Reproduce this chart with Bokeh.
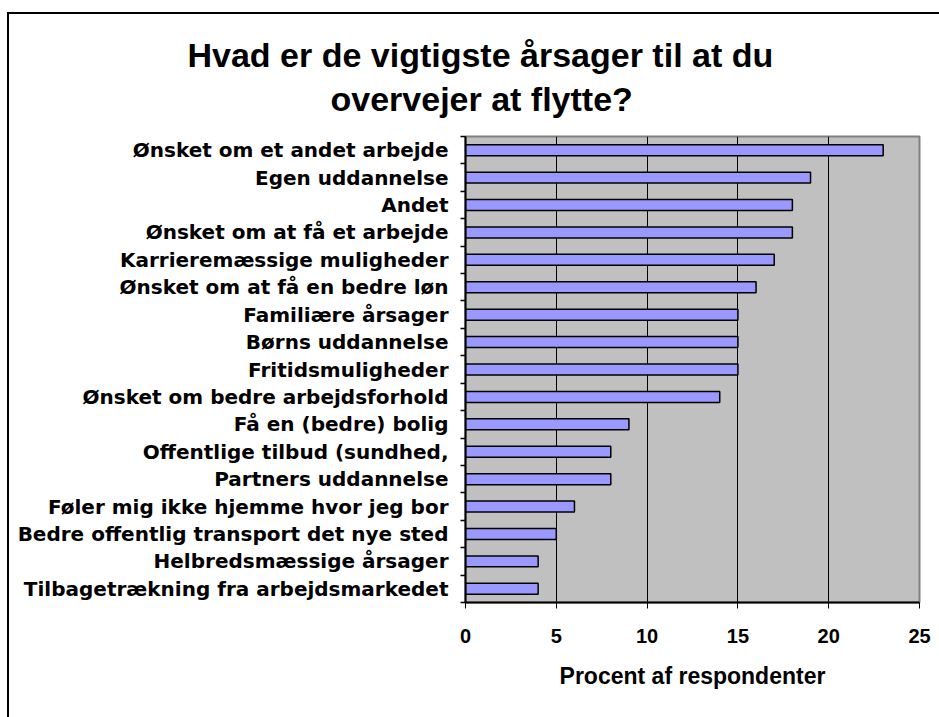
from bokeh.plotting import figure
from bokeh.models import FixedTicker, Range1d, InlineStyleSheet, Title
from bokeh.embed import file_html
from bokeh.resources import INLINE

categories = [
    "Ønsket om et andet arbejde",
    "Egen uddannelse",
    "Andet",
    "Ønsket om at få et arbejde",
    "Karrieremæssige muligheder",
    "Ønsket om at få en bedre løn",
    "Familiære årsager",
    "Børns uddannelse",
    "Fritidsmuligheder",
    "Ønsket om bedre arbejdsforhold",
    "Få en (bedre) bolig",
    "Offentlige tilbud (sundhed,",
    "Partners uddannelse",
    "Føler mig ikke hjemme hvor jeg bor",
    "Bedre offentlig transport det nye sted",
    "Helbredsmæssige årsager",
    "Tilbagetrækning fra arbejdsmarkedet",
]
values = [23, 19, 18, 18, 17, 16, 15, 15, 15, 14, 9, 8, 8, 6, 5, 4, 4]
x_ticks = [0, 5, 10, 15, 20, 25]
title_lines = ["Hvad er de vigtigste årsager til at du", "overvejer at flytte?"]
x_label = "Procent af respondenter"

n = len(categories)
pos = [n - i for i in range(n)]  # first category on top
bounds = [k + 0.5 for k in range(n + 1)]

frame_css = InlineStyleSheet(css="""
:host { position: relative; }
:host::after {
  content: ""; position: absolute; left: 7px; top: 12px; right: 0; bottom: 0;
  border-left: 2px solid black; border-top: 2px solid black;
  pointer-events: none; z-index: 10;
}
""")

p = figure(
    width=939, height=717,
    x_range=Range1d(0, 25), y_range=Range1d(0.5, n + 0.5),
    output_backend="svg", toolbar_location=None,
    min_border_left=465, min_border_right=20,
    min_border_top=136, min_border_bottom=115,
    stylesheets=[frame_css],
)
p.background_fill_color = "#c0c0c0"
p.border_fill_color = "white"
p.outline_line_color = "#808080"
p.outline_line_width = 2

# title: two lines, each centred over the chart (left offsets relative to plot frame)
for txt, off, so in [(title_lines[1], -135, 38), (title_lines[0], -278, -30)]:
    p.add_layout(Title(text=txt, align="left", offset=off,
                       text_font="Liberation Sans", text_font_style="bold",
                       text_font_size="34px", text_color="black",
                       standoff=so), "above")

p.hbar(y=pos, right=values, left=0, height=0.4,
       fill_color="#9999ff", line_color="black", line_width=1.5)

xa = p.xaxis[0]
xa.ticker = FixedTicker(ticks=x_ticks)
xa.axis_line_color = "black"
xa.axis_line_width = 2
xa.major_tick_out = 6
xa.major_tick_in = 0
xa.major_tick_line_color = "black"
xa.minor_tick_line_color = None
xa.major_label_text_font = "Liberation Sans"
xa.major_label_text_font_style = "bold"
xa.major_label_text_font_size = "20px"
xa.major_label_text_color = "black"
xa.major_label_standoff = 20
xa.axis_label = x_label
xa.axis_label_text_font = "Liberation Sans"
xa.axis_label_text_font_style = "bold"
xa.axis_label_text_font_size = "23px"
xa.axis_label_text_color = "black"
xa.axis_label_standoff = 17

ya = p.yaxis[0]
ya.ticker = FixedTicker(ticks=pos, minor_ticks=bounds)
ya.major_label_overrides = {k: c for k, c in zip(pos, categories)}
ya.axis_line_color = "black"
ya.axis_line_width = 2
ya.major_tick_out = 0
ya.major_tick_in = 0
ya.minor_tick_out = 5
ya.minor_tick_in = 0
ya.minor_tick_line_color = "black"
ya.minor_tick_line_width = 1.5
ya.major_label_text_font = "DejaVu Sans"
ya.major_label_text_font_style = "bold"
ya.major_label_text_font_size = "20px"
ya.major_label_text_color = "black"
ya.major_label_standoff = 12

p.xgrid.ticker = FixedTicker(ticks=x_ticks)
p.xgrid.grid_line_color = "black"
p.xgrid.grid_line_width = 1
p.ygrid.grid_line_color = None

open("out.html", "w").write(file_html(p, INLINE))
